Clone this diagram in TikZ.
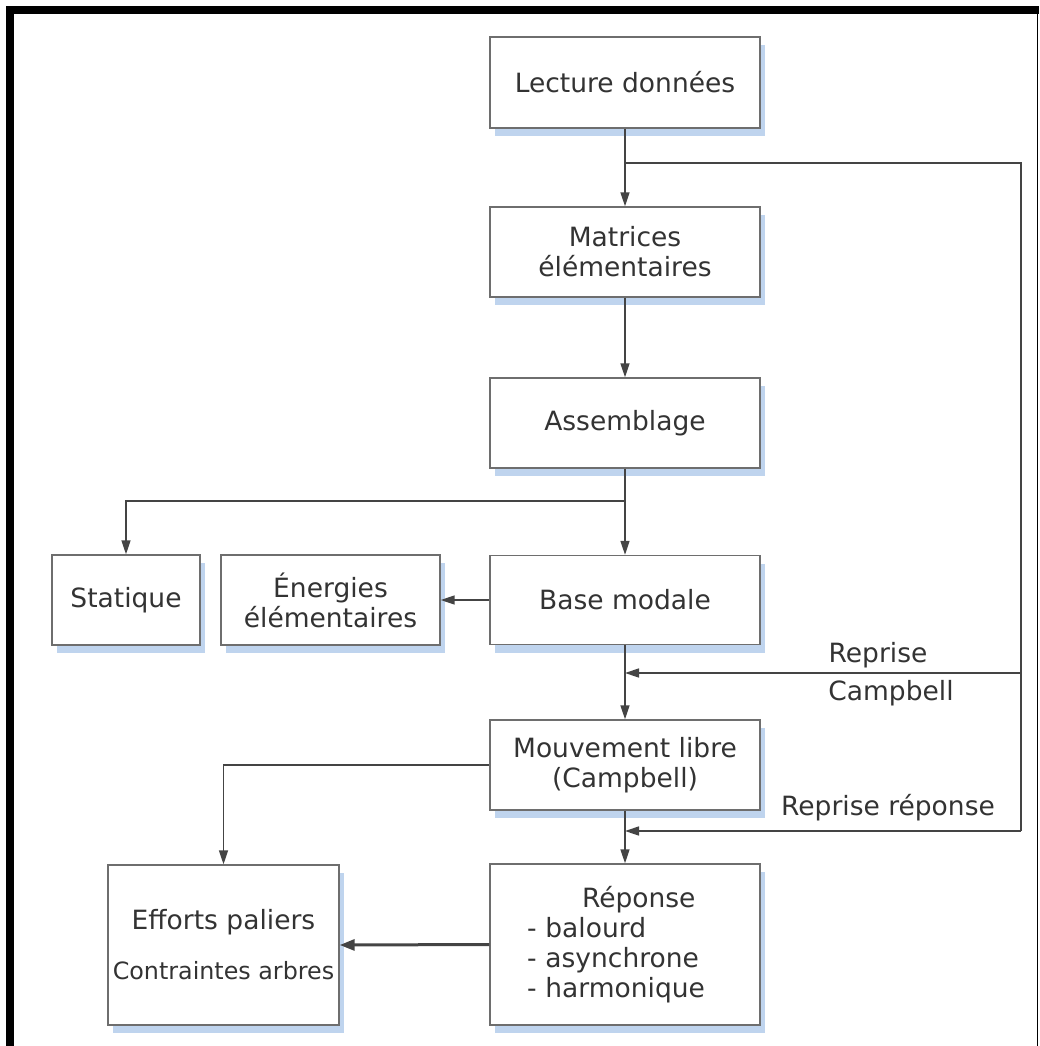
\documentclass[tikz,border=0pt]{standalone}
\usepackage{fontspec}
\newfontfamily\dv{DejaVu Sans}
\usetikzlibrary{arrows.meta,shadows}
\definecolor{txt}{HTML}{333333}
\definecolor{boxgray}{HTML}{6E6E6E}
\definecolor{linegray}{HTML}{444444}
\definecolor{shadowblue}{HTML}{BFD4EE}
\begin{document}
\begin{tikzpicture}[x=1pt,y=-1pt,
  stepbox/.style={draw=boxgray, line width=1.4pt, fill=white, align=center,
    text=txt, font={\dv\fontsize{26.5}{30}\selectfont}, inner sep=0pt,
    drop shadow={shadow xshift=5pt, shadow yshift=-8pt, fill=shadowblue, opacity=1}},
  conn/.style={draw=linegray, line width=1.5pt, -{Triangle[length=14pt,width=9pt]}},
  plain/.style={draw=linegray, line width=1.5pt},
  lbl/.style={text=txt, font={\dv\fontsize{26.5}{30}\selectfont}, inner sep=0pt}]
\useasboundingbox (0,0) rectangle (1039,1046);
\fill[white] (0,0) rectangle (1039,1046);
% frame
\fill[black] (6,6) rectangle (14,1046);
\fill[black] (6,6) rectangle (1039,14);
\draw[black, line width=1.5pt] (1037.5,14) -- (1037.5,1046);

% boxes
\node[stepbox, minimum width=270pt, minimum height=91pt] (lect) at (625,82.5) {Lecture données};
\node[stepbox, minimum width=270pt, minimum height=90pt] (mat) at (625,252) {Matrices\\élémentaires};
\node[stepbox, minimum width=270pt, minimum height=90pt] (ass) at (625,423) {Assemblage};
\node[stepbox, minimum width=270pt, minimum height=89pt] (base) at (625,600) {Base modale};
\node[stepbox, minimum width=148pt, minimum height=90pt] (stat) at (126,600) {Statique};
\node[stepbox, minimum width=219pt, minimum height=90pt] (ener) at (330.5,600) {Énergies\\élémentaires};
\node[stepbox, minimum width=270pt, minimum height=90pt] (mouv) at (625,765) {Mouvement libre\\(Campbell)};
\node[stepbox, minimum width=270pt, minimum height=161pt, text width=196pt, align=left] (rep) at (625,944.5)
  {\hspace*{55pt}Réponse\\- balourd\\- asynchrone\\- harmonique};
\node[stepbox, minimum width=231pt, minimum height=160pt] (eff) at (223.5,945)
  {Efforts paliers\\[20pt]{\fontsize{23.8}{30}\selectfont Contraintes arbres}};

% junction coordinates
\coordinate (j1) at (625,163);
\coordinate (rtop) at (1021,163);
\coordinate (rmid) at (1021,673);
\coordinate (rbot) at (1021,831);
\coordinate (jm) at (625,673);
\coordinate (jb) at (625,831);
\coordinate (js) at (625,501);

% connectors
\draw[conn] (lect.south) -- (mat.north);
\draw[plain] (j1) -- (rtop) -- (rbot);
\draw[conn] (rmid) -- (jm);
\draw[conn] (rbot) -- (jb);
\draw[conn] (mat.south) -- (ass.north);
\draw[conn] (ass.south) -- (base.north);
\draw[conn] (js) -| (stat.north);
\draw[conn] (base.west) -- (ener.east);
\draw[conn] (base.south) -- (mouv.north);
\draw[conn] (mouv.south) -- (rep.north);
\draw[conn] (mouv.west) -| (eff.north);
\draw[draw=linegray, line width=3pt, -{Triangle[length=15pt,width=11pt]}] (rep.west) -- (eff.east);

% labels
\node[lbl] (l1) at (878,655) {Reprise};
\node[lbl] (l2) at (891,693) {Campbell};
\node[lbl] (l3) at (888,808) {Reprise réponse};
\end{tikzpicture}
\end{document}
